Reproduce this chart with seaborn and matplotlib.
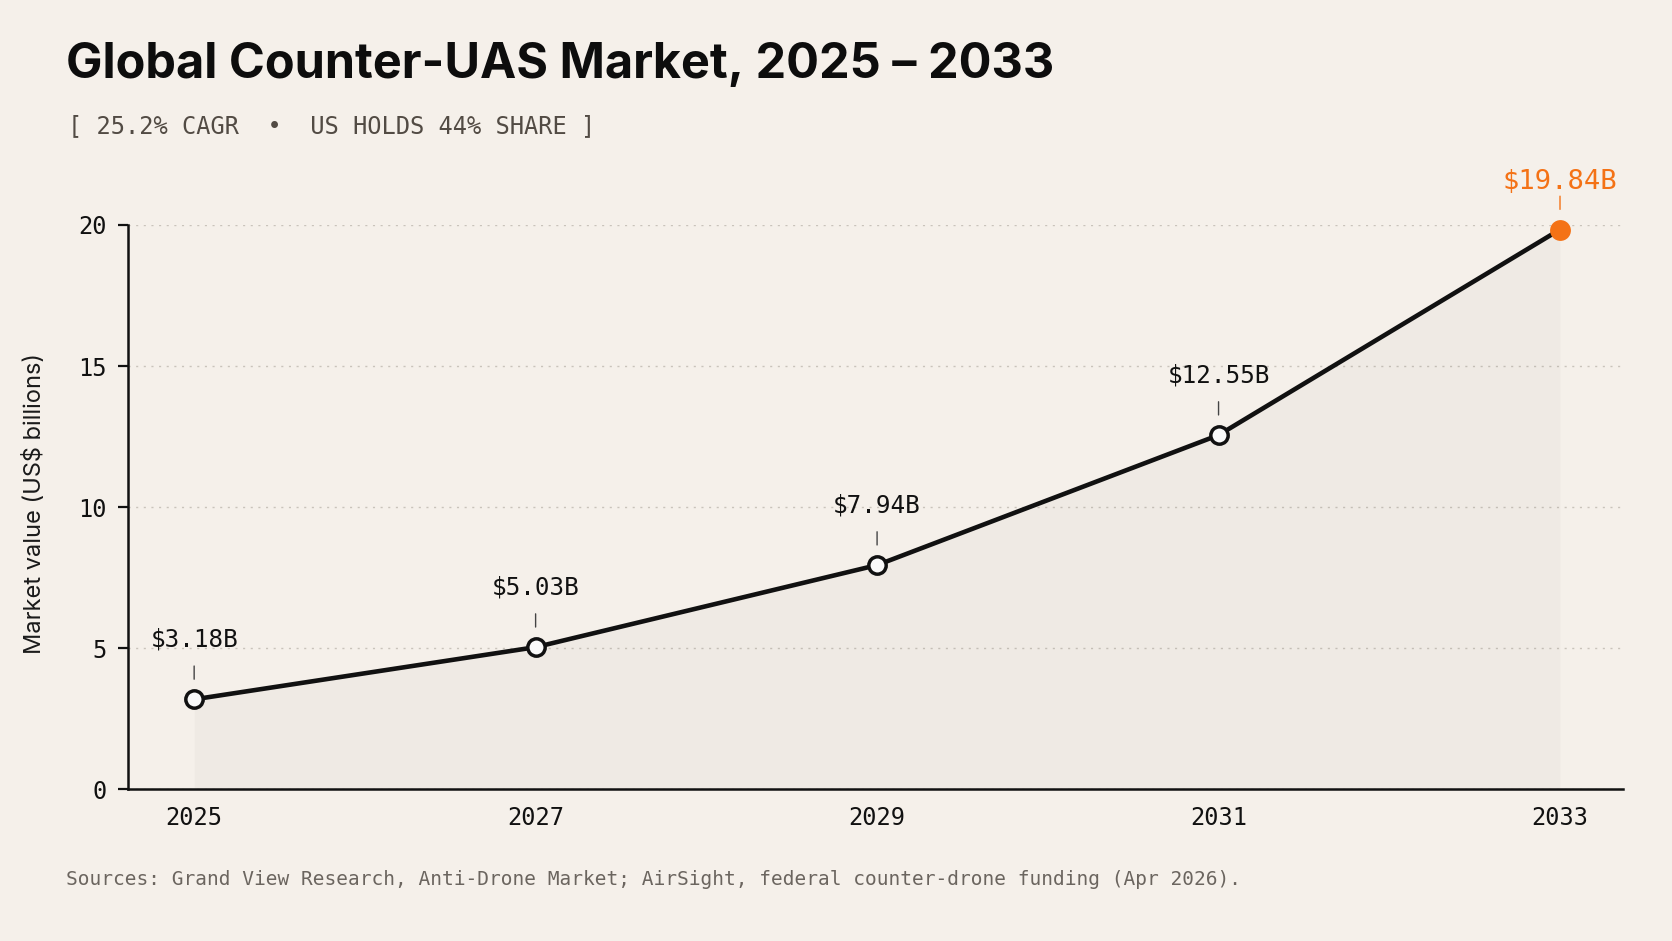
import numpy as np
import matplotlib
matplotlib.use('Agg')
import matplotlib.pyplot as plt
import seaborn as sns

# data
years = [2025, 2027, 2029, 2031, 2033]
values = [3.18, 5.03, 7.94, 12.55, 19.84]
value_labels = ['$3.18B', '$5.03B', '$7.94B', '$12.55B', '$19.84B']
y_ticks = [0, 5, 10, 15, 20]

title = 'Global Counter-UAS Market, 2025 \u2013 2033'
subtitle = '[ 25.2% CAGR  \u2022  US HOLDS 44% SHARE ]'
source = 'Sources: Grand View Research, Anti-Drone Market; AirSight, federal counter-drone funding (Apr 2026).'

bg = '#f5f0ea'
ink = '#111111'
orange = '#f47216'
mono = ['DejaVu Sans Mono']
sans = ['Inter', 'DejaVu Sans']

sns.set_theme(style='white')
plt.rcParams['text.parse_math'] = False
plt.rcParams['font.family'] = sans

fig = plt.figure(figsize=(16.72, 9.41), dpi=100, facecolor=bg)
ax = fig.add_axes([0.0766, 0.1615, 0.9707 - 0.0766, 0.7609 - 0.1615])
ax.set_facecolor(bg)

# area under the curve
ax.fill_between(years, values, 0, color='#000000', alpha=0.025, lw=0, zorder=1)

sns.lineplot(x=years, y=values, ax=ax, color=ink, linewidth=3.3, zorder=3)
for l in ax.lines:
    l.set_clip_on(False)
    l.set_solid_capstyle('round')

# white markers for all but last, orange for last
ax.plot(years[:-1], values[:-1], linestyle='none', marker='o', markersize=12.5,
        markerfacecolor='#fafafa', markeredgecolor=ink, markeredgewidth=2.5,
        zorder=4, clip_on=False)
ax.plot(years[-1:], values[-1:], linestyle='none', marker='o', markersize=15,
        markerfacecolor=orange, markeredgecolor=orange, markeredgewidth=0,
        zorder=4, clip_on=False)

for i, (x, v, lab) in enumerate(zip(years, values, value_labels)):
    last = i == len(years) - 1
    col = orange if last else ink
    ax.annotate('', xy=(x, v), xytext=(0, 24), textcoords='offset points',
                arrowprops=dict(arrowstyle='-', shrinkA=0, shrinkB=14.5,
                                color=orange if last else '#444444', lw=1.0),
                annotation_clip=False)
    ax.annotate(lab, xy=(x, v), xytext=(0, 29.5 if last else 38),
                textcoords='offset points', ha='center', va='baseline',
                fontsize=19.5 if last else 17.5, color=col, family=mono,
                annotation_clip=False)

ax.set_xlim(2024.613, 2033.369)
ax.set_ylim(0, 20)
ax.set_xticks(years)
ax.set_xticklabels([str(y) for y in years], family=mono, fontsize=17, color=ink)
ax.set_yticks(y_ticks)
ax.set_yticklabels([str(t) for t in y_ticks], family=mono, fontsize=17, color=ink)
ax.tick_params(axis='x', length=0, pad=12)
ax.tick_params(axis='y', length=7.5, width=1.6, color=ink, pad=8, left=True)

ax.yaxis.grid(True, linestyle=(0, (1.5, 4)), color='#c9c3bb', linewidth=1.0)
ax.set_axisbelow(True)

for side in ['top', 'right']:
    ax.spines[side].set_visible(False)
for side in ['left', 'bottom']:
    ax.spines[side].set_color(ink)
    ax.spines[side].set_linewidth(1.8)

ax.set_xlabel('')
ax.set_ylabel('')
fig.text(35 / 1672, 1 - 503 / 941, 'Market value (US$ billions)', rotation=90,
         ha='center', va='center', fontsize=17, color='#1a1a1a', family=sans)

fig.text(66 / 1672, 1 - 78 / 941, title, ha='left', va='baseline',
         fontsize=35, fontweight='bold', color='#0d0d0d', family=sans)
fig.text(68 / 1672, 1 - 133 / 941, subtitle, ha='left', va='baseline',
         fontsize=17, color='#524b44', family=mono)
fig.text(66 / 1672, 1 - 885 / 941, source, ha='left', va='baseline',
         fontsize=14, color='#6b655f', family=mono)

fig.savefig('out.png', dpi=100, facecolor=bg)
